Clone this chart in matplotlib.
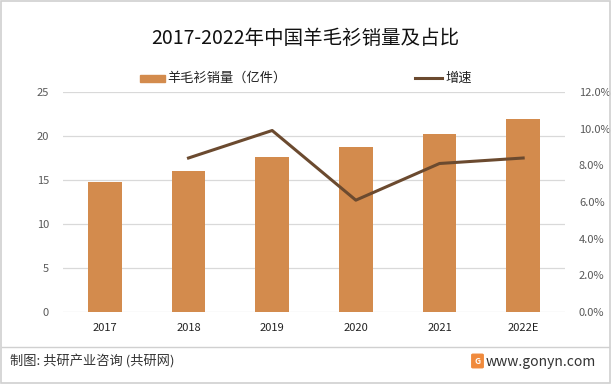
import matplotlib
matplotlib.use('Agg')
from matplotlib import pyplot as plt
from matplotlib.patches import Rectangle, FancyBboxPatch
from matplotlib.lines import Line2D
from matplotlib.ticker import FuncFormatter

plt.rcParams['font.family'] = ['Noto Sans CJK SC', 'DejaVu Sans']

years = ['2017', '2018', '2019', '2020', '2021', '2022E']
sales = [14.8, 16.0, 17.6, 18.75, 20.2, 21.9]          # 亿件
growth_years = ['2018', '2019', '2020', '2021', '2022E']
growth = [8.4, 9.9, 6.1, 8.1, 8.4]                      # %

bar_color = '#D38B4D'
line_color = '#6B4A2F'
tick_color = '#595959'

W, H = 611, 384
fig = plt.figure(figsize=(W / 100, H / 100), dpi=100)

# 外框
fig.patches.append(Rectangle((0.002, 0.002), 0.996, 0.996, transform=fig.transFigure,
                             fill=False, edgecolor='#D0D0D0', linewidth=1.2))

ax = fig.add_axes([63 / W, 1 - 312 / H, (565 - 63) / W, (312 - 92) / H])
x = list(range(len(years)))
ax.bar(x, sales, width=0.4, color=bar_color, zorder=2)
ax.set_ylim(0, 25)
ax.set_yticks([0, 5, 10, 15, 20, 25])
ax.set_xlim(-0.5, len(years) - 0.5)
ax.set_xticks(x)
ax.set_xticklabels(years, fontsize=8, color='#222222')
ax.tick_params(axis='y', labelsize=8, labelcolor=tick_color, length=0, pad=10)
ax.tick_params(axis='x', length=0, pad=8)
ax.grid(axis='y', color='#D9D9D9', linewidth=0.9, zorder=0)
for s in ax.spines.values():
    s.set_visible(False)

ax2 = ax.twinx()
gx = [years.index(y) for y in growth_years]
ax2.plot(gx, growth, color=line_color, linewidth=2.2, zorder=3)
ax2.set_ylim(0, 12)
ax2.set_yticks([0, 2, 4, 6, 8, 10, 12])
ax2.yaxis.set_major_formatter(FuncFormatter(lambda v, p: f'{v:.1f}%'))
ax2.tick_params(axis='y', labelsize=8, labelcolor=tick_color, length=0, pad=10)
for s in ax2.spines.values():
    s.set_visible(False)

# 标题
fig.text(0.5, 1 - 38 / H, '2017-2022年中国羊毛衫销量及占比', ha='center', va='center',
         fontsize=14, color='#111111')

# 图例
fig.patches.append(Rectangle((140 / W, 1 - 82 / H), 25 / W, 7 / H, transform=fig.transFigure,
                             color=bar_color))
fig.text(167 / W, 1 - 78 / H, '羊毛衫销量（亿件）', ha='left', va='center', fontsize=9.5, color='#222222')
fig.lines.append(Line2D([415 / W, 442 / W], [1 - 78 / H, 1 - 78 / H], transform=fig.transFigure,
                        color=line_color, linewidth=2.2))
fig.text(445 / W, 1 - 78 / H, '增速', ha='left', va='center', fontsize=9.5, color='#222222')

# 底部
fig.lines.append(Line2D([0.004, 0.996], [1 - 347 / H, 1 - 347 / H], transform=fig.transFigure,
                        color='#D0D0D0', linewidth=1))
fig.text(10 / W, 1 - 362 / H, '制图: 共研产业咨询 (共研网)', ha='left', va='center',
         fontsize=9.5, color='#333333')
fig.patches.append(FancyBboxPatch((473 / W, 1 - 367 / H), 9 / W, 12 / H, transform=fig.transFigure,
                                  boxstyle='round,pad=0.002', color='#F08A3C'))
fig.text(477.5 / W, 1 - 361 / H, 'G', ha='center', va='center', fontsize=6, color='white',
         fontweight='bold')
fig.text(486 / W, 1 - 362 / H, 'www.gonyn.com', ha='left', va='center', fontsize=10, color='#333333')

fig.savefig('out.png', dpi=100)
